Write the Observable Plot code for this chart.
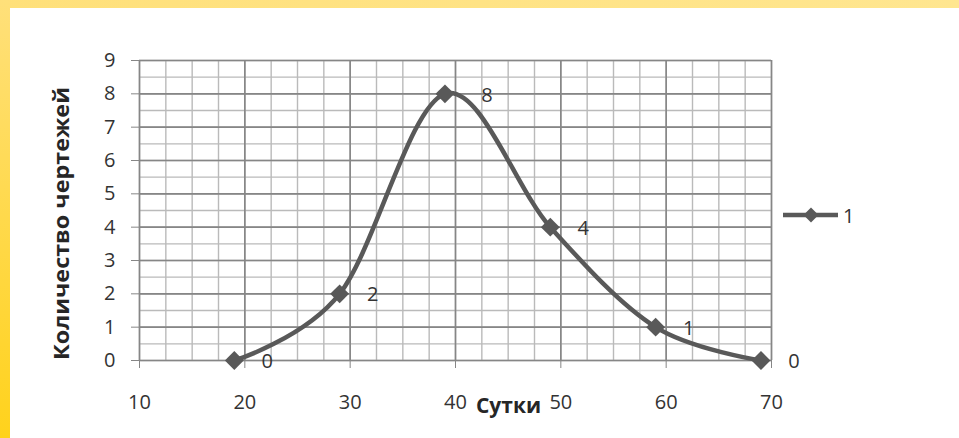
<!DOCTYPE html>
<html>
<head>
<meta charset="utf-8">
<script src="https://cdn.jsdelivr.net/npm/d3@7"></script>
<script src="https://cdn.jsdelivr.net/npm/@observablehq/plot@0.6"></script>
<style>
  html, body { margin: 0; padding: 0; background: #fff; }
  #page { position: relative; width: 959px; height: 438px; overflow: hidden; background: #fff; }
  #topband { position: absolute; left: 0; top: 0; width: 959px; height: 8px;
    background: linear-gradient(to right, #ffe07a, #ffe690); }
  #leftband { position: absolute; left: 0; top: 0; width: 10px; height: 438px;
    background: linear-gradient(to bottom, #ffe07a, #ffd21c); }
  #chart { position: absolute; left: 10px; top: 8px; }
  #legend { position: absolute; left: 780px; top: 200px; font-family: 'Open Sans', sans-serif;
    font-size: 20px; color: #333; display: flex; align-items: center; }
</style>
</head>
<body>
<div id="page">
  <div id="topband"></div>
  <div id="leftband"></div>
  <div id="chart"></div>
  <div id="legend">
    <svg width="60" height="30"><line x1="3" y1="15" x2="58" y2="15" stroke="#595959" stroke-width="4.5"/><path d="M31,7.5 L38.5,15 L31,22.5 L23.5,15 Z" fill="#595959"/></svg>
    <span style="margin-left:3px">1</span>
  </div>
</div>
<script>
const days = [19, 29, 39, 49, 59, 69];
const drawings = [0, 2, 8, 4, 1, 0];
const xTicks = [10, 20, 30, 40, 50, 60, 70];
const yTicks = [0, 1, 2, 3, 4, 5, 6, 7, 8, 9];
const xLabel = "Сутки";
const yLabel = "Количество чертежей";

const data = days.map((d, i) => ({day: d, n: drawings[i]}));
const xMinor = d3.range(10, 70.001, 2.5);
const yMinor = d3.range(0, 9.001, 0.5);

const plot = Plot.plot({
  width: 949,
  height: 430,
  marginLeft: 129,
  marginRight: 188,
  marginTop: 52,
  marginBottom: 78,
  x: {domain: [10, 70], label: null},
  y: {domain: [0, 9], label: null},
  style: {fontFamily: "'Open Sans', sans-serif", fontSize: "20px", color: "#333", background: "transparent", overflow: "visible"},
  marks: [
    Plot.gridX(xMinor, {stroke: "#bababa", strokeOpacity: 1, strokeWidth: 1.4}),
    Plot.gridY(yMinor, {stroke: "#bababa", strokeOpacity: 1, strokeWidth: 1.4}),
    Plot.gridX(xTicks, {stroke: "#868686", strokeOpacity: 1, strokeWidth: 1.6}),
    Plot.gridY(yTicks, {stroke: "#868686", strokeOpacity: 1, strokeWidth: 1.6}),
    Plot.axisX(xTicks, {tickSize: 8, tickPadding: 26, stroke: "#868686", label: null}),
    Plot.axisY(yTicks, {tickSize: 8, tickPadding: 16, stroke: "#868686", label: null}),
    Plot.line(data, {x: "day", y: "n", curve: "cardinal", stroke: "#595959", strokeWidth: 4.5}),
    Plot.dot(data, {x: "day", y: "n", symbol: "diamond2", r: 8.5, fill: "#595959", stroke: "none"}),
    Plot.text(data, {filter: d => d.n !== 8, x: "day", y: "n", text: d => String(d.n), dx: 33, dy: 1, fill: "#333"}),
    Plot.text(data, {filter: d => d.n === 8, x: "day", y: "n", text: d => String(d.n), dx: 42, dy: 2, fill: "#333"}),
    Plot.text([xLabel], {frameAnchor: "bottom", dx: 53, dy: 52, fontWeight: "bold", fontSize: 21, fill: "#262626"}),
    Plot.text([yLabel], {frameAnchor: "left", rotate: -90, dx: -77, dy: 13, fontWeight: "bold", fontSize: 21, fill: "#262626"})
  ]
});
document.getElementById("chart").appendChild(plot);
d3.select(plot).selectAll("text").filter(function() { return this.textContent === yLabel; })
  .attr("text-anchor", "start").attr("x", -136.5)
  .attr("textLength", 273).attr("lengthAdjust", "spacingAndGlyphs");
</script>
</body>
</html>
